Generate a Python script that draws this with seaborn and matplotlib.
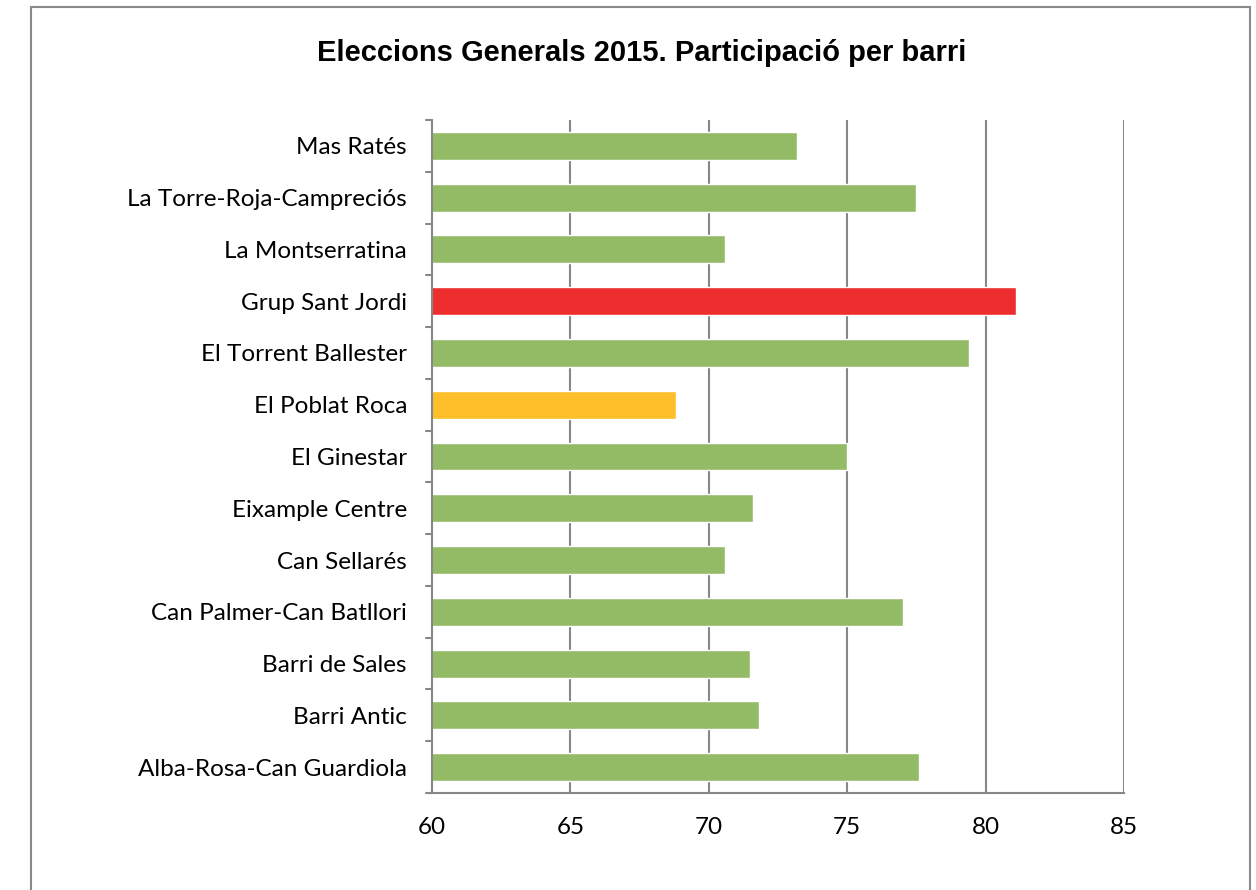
import matplotlib
matplotlib.use("Agg")
import matplotlib.pyplot as plt
from matplotlib.patches import Rectangle
import seaborn as sns
import pandas as pd

# Participació per barri (%), de dalt a baix
barris = [
    "Mas Ratés",
    "La Torre-Roja-Campreciós",
    "La Montserratina",
    "Grup Sant Jordi",
    "El Torrent Ballester",
    "El Poblat Roca",
    "El Ginestar",
    "Eixample Centre",
    "Can Sellarés",
    "Can Palmer-Can Batllori",
    "Barri de Sales",
    "Barri Antic",
    "Alba-Rosa-Can Guardiola",
]
participacio = [73.2, 77.5, 70.6, 81.1, 79.4, 68.8, 75.0, 71.6, 70.6, 77.0, 71.5, 71.8, 77.6]
colors = ["#93BB65", "#93BB65", "#93BB65", "#EE2E2E", "#93BB65", "#FDBF2A", "#93BB65",
          "#93BB65", "#93BB65", "#93BB65", "#93BB65", "#93BB65", "#93BB65"]
x_ticks = [60, 65, 70, 75, 80, 85]

df = pd.DataFrame({"barri": barris, "participacio": participacio})

sns.set_style("white")
plt.rcParams["font.family"] = ["Lato", "DejaVu Sans"]
plt.rcParams["text.color"] = "black"
plt.rcParams["xtick.color"] = "black"
plt.rcParams["ytick.color"] = "black"

fig = plt.figure(figsize=(12.56, 8.9), dpi=100)
ax = fig.add_axes([432 / 1256, 1 - 793 / 890, (1124 - 432) / 1256, (793 - 120) / 890])

sns.barplot(data=df, y="barri", x="participacio", hue="barri", palette=colors,
            legend=False, orient="h", width=0.54, ax=ax, saturation=1, zorder=2)

ax.set_xlim(60, 85)
ax.set_ylim(12.5, -0.5)
ax.set_xticks(x_ticks)
ax.set_xlabel("")
ax.set_ylabel("")

grid_col = "#878787"
for t in x_ticks[1:]:
    ax.axvline(t, color=grid_col, lw=1.5, zorder=0)

# category boundary ticks on the y axis
ax.set_yticks(range(len(barris)))
ax.set_yticklabels(barris, fontsize=17.5)
ax.tick_params(axis="y", length=0, pad=18)
for b in [i - 0.5 for i in range(len(barris) + 1)]:
    ax.plot([-0.008, 0], [b, b], transform=ax.get_yaxis_transform(),
            color=grid_col, lw=1.5, clip_on=False)

ax.tick_params(axis="x", length=7, width=1.5, color=grid_col, labelcolor="black",
               labelsize=17.5, pad=10, direction="out")

for side in ["top", "right"]:
    ax.spines[side].set_visible(False)
for side in ["left", "bottom"]:
    ax.spines[side].set_color(grid_col)
    ax.spines[side].set_linewidth(1.5)

fig.text(642 / 1256, 1 - 53 / 890, "Eleccions Generals 2015. Participació per barri",
         ha="center", va="center", fontsize=21, fontweight="bold", color="black",
         family=["Liberation Sans", "DejaVu Sans"])

frame = Rectangle((31 / 1256, -0.01), (1250 - 31) / 1256, 1.01 - 8 / 890 + 0.001,
                  transform=fig.transFigure, fill=False, edgecolor="#8a8a8a", lw=1.5)
fig.add_artist(frame)

fig.savefig("out.png", dpi=100)
